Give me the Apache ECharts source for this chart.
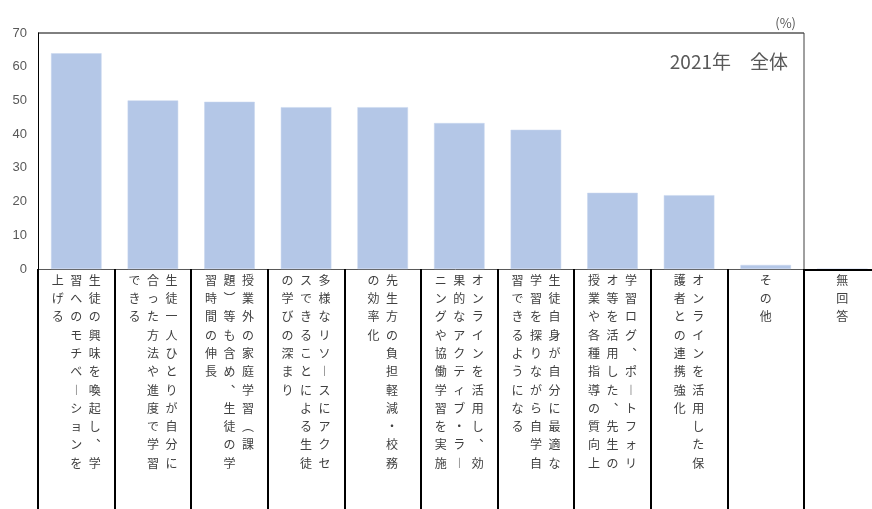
<!DOCTYPE html>
<html>
<head>
<meta charset="utf-8">
<script src="https://cdn.jsdelivr.net/npm/echarts@6/dist/echarts.min.js"></script>
<style>
html,body{margin:0;padding:0;background:#fff;}
#chart{width:872px;height:509px;}
</style>
</head>
<body>
<div id="chart"></div>
<script>
// Category labels ("\n" marks where the vertical text wraps to the next column)
const categories = [
  '生徒の興味を喚起し、学\n習へのモチベーションを\n上げる',
  '生徒一人ひとりが自分に\n合った方法や進度で学習\nできる',
  '授業外の家庭学習（課\n題）等も含め、生徒の学\n習時間の伸長',
  '多様なリソースにアクセ\nスできることによる生徒\nの学びの深まり',
  '先生方の負担軽減・校務\nの効率化',
  'オンラインを活用し、効\n果的なアクティブ・ラー\nニングや協働学習を実施',
  '生徒自身が自分に最適な\n学習を探りながら自学自\n習できるようになる',
  '学習ログ、ポートフォリ\nオ等を活用した、先生の\n授業や各種指導の質向上',
  'オンラインを活用した保\n護者との連携強化',
  'その他',
  '無回答'
];
const values = [64.0, 50.0, 49.6, 48.0, 48.0, 43.3, 41.3, 22.6, 21.9, 1.2, 0];
const yTicks = [0, 10, 20, 30, 40, 50, 60, 70];
const titleText = '2021年　全体';
const unitText = '(%)';

const W = 872, H = 509;
const gridLeft = 38, gridTop = 33, gridHeight = 236;
const catW = 76.6;
const plotCats = 10;
const plotRight = gridLeft + plotCats * catW;
const axisY = gridTop + gridHeight;

const vmap = {'ー':'︱','、':'︑','（':'︵','）':'︶'};
function verticalLabel(s) {
  const cols = s.split('\n').map(c => Array.from(c).map(ch => vmap[ch] || ch));
  const rows = Math.max(...cols.map(c => c.length));
  const lines = [];
  for (let r = 0; r < rows; r++) {
    let line = '';
    for (let c = cols.length - 1; c >= 0; c--) {
      const ch = cols[c][r] || '　';
      line += '{c|' + ch + '}';
    }
    lines.push(line);
  }
  return lines.join('\n');
}

const chart = echarts.init(document.getElementById('chart'), null, {renderer: 'canvas'});
chart.setOption({
  animation: false,
  backgroundColor: '#fff',
  title: [
    {text: titleText, right: 79, top: 47,
     textStyle: {fontSize: 19, fontWeight: 'normal', color: '#595959', fontFamily: 'Noto Sans CJK JP'}},
    {text: unitText, right: 71, top: 12,
     textStyle: {fontSize: 13, fontWeight: 'normal', color: '#595959', fontFamily: 'Noto Sans CJK JP'}}
  ],
  grid: {left: gridLeft, top: gridTop, width: 11 * catW, height: gridHeight,
         containLabel: false, outerBoundsMode: 'none'},
  xAxis: {
    type: 'category',
    data: categories,
    boundaryGap: true,
    axisLine: {show: true, lineStyle: {color: '#595959', width: 1}},
    axisTick: {show: true, interval: 0, length: H - axisY, lineStyle: {color: '#000', width: 2}},
    axisLabel: {
      interval: 0, margin: 2, color: '#404040', hideOverlap: false,
      formatter: v => verticalLabel(v),
      rich: {c: {width: 18.5, align: 'center', lineHeight: 18.3, fontSize: 12,
                 color: '#404040', fontFamily: 'Noto Sans CJK JP'}}
    },
    splitLine: {show: false}
  },
  yAxis: {
    type: 'value', min: 0, max: 70, interval: 10,
    axisLine: {show: true, lineStyle: {color: '#000', width: 1}},
    axisTick: {show: false},
    splitLine: {show: false},
    axisLabel: {color: '#595959', fontSize: 13, margin: 11, fontFamily: 'Liberation Sans',
      formatter: v => (yTicks.indexOf(v) >= 0 ? String(v) : '')}
  },
  series: [{
    type: 'bar',
    data: values,
    barCategoryGap: '34%',
    itemStyle: {color: '#b4c7e7', borderColor: '#c9d7ef', borderWidth: 0.5}
  }],
  graphic: [
    {type: 'line', shape: {x1: gridLeft, y1: gridTop, x2: plotRight, y2: gridTop},
     style: {stroke: '#000', lineWidth: 1}, z: 10},
    {type: 'line', shape: {x1: plotRight, y1: gridTop, x2: plotRight, y2: axisY},
     style: {stroke: '#404040', lineWidth: 1}, z: 10},
    {type: 'line', shape: {x1: plotRight, y1: axisY + 1, x2: W, y2: axisY + 1},
     style: {stroke: '#000', lineWidth: 2}, z: 10}
  ]
});
</script>
</body>
</html>
